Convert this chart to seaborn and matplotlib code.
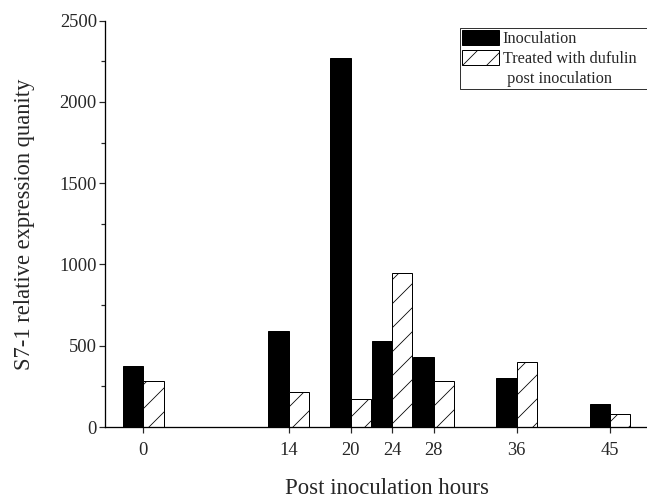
import pandas as pd
import seaborn as sns
import matplotlib.pyplot as plt
from matplotlib.patches import Patch
from matplotlib.ticker import MultipleLocator

# Datos
horas = [0, 14, 20, 24, 28, 36, 45]
inoculacion = [377, 590, 2270, 530, 428, 301, 140]
tratado = [282, 213, 175, 950, 282, 400, 78]
series = ['Inoculation', 'Treated with dufulin']
# un par de espacios al final para que la caja llegue casi al borde
etiquetas_leyenda = ['Inoculation', 'Treated with dufulin  ', ' post inoculation']

datos = pd.DataFrame({
    'hora': horas * 2,
    'valor': inoculacion + tratado,
    'grupo': [series[0]] * len(horas) + [series[1]] * len(horas),
})

sns.set_style('ticks')
plt.rcParams['font.family'] = ['Liberation Serif', 'DejaVu Serif']
plt.rcParams['hatch.linewidth'] = 0.8
plt.rcParams['xtick.direction'] = 'out'
plt.rcParams['ytick.direction'] = 'out'

fig = plt.figure(figsize=(647 / 72, 499 / 72), dpi=72)
# el original esta recortado por la derecha: el eje sigue mas alla del borde
ax = fig.add_axes([105 / 647, 1 - 427 / 499, (669 - 105) / 647, (427 - 20.7) / 499])

sns.barplot(data=datos, x='hora', y='valor', hue='grupo', native_scale=True,
            palette=['black', 'white'], edgecolor='black', linewidth=1,
            saturation=1, width=0.975, errorbar=None, legend=False, ax=ax)

for barra in ax.containers[1]:
    barra.set_hatch('/')

ax.set_xlim(-3.7, 50.7)
ax.set_ylim(0, 2500)
ax.set_xticks(horas)
ax.set_xticklabels([str(h) for h in horas])
ax.yaxis.set_major_locator(MultipleLocator(500))
ax.yaxis.set_minor_locator(MultipleLocator(250))
ax.tick_params(axis='both', which='major', labelsize=18.5, length=6, width=1.2)
ax.tick_params(axis='x', which='major', pad=9)
ax.tick_params(axis='y', which='major', pad=2)
ax.tick_params(axis='y', which='minor', length=4, width=1.2)
ax.tick_params(axis='x', which='minor', length=0)

for lado in ['top', 'right']:
    ax.spines[lado].set_visible(False)
for lado in ['left', 'bottom']:
    ax.spines[lado].set_linewidth(1.3)
    ax.spines[lado].set_color('black')

ax.set_xlabel('Post inoculation hours', fontsize=22.8, labelpad=19)
ax.set_ylabel('S7-1 relative expression quanity', fontsize=22.5, labelpad=24)

vacio = Patch(facecolor='none', edgecolor='none')
leyenda = ax.legend([ax.containers[0], ax.containers[1], vacio], etiquetas_leyenda,
                    loc='upper left', bbox_to_anchor=(460 / 647, 1 - 28 / 499),
                    bbox_transform=fig.transFigure, fontsize=16.3, frameon=True,
                    fancybox=False, edgecolor='black', framealpha=1,
                    handlelength=2.25, handleheight=1.05, handletextpad=0.25,
                    borderpad=0.12, labelspacing=0.17, borderaxespad=0)
leyenda.get_frame().set_linewidth(0.8)

fig.savefig('out.png', dpi=72)
